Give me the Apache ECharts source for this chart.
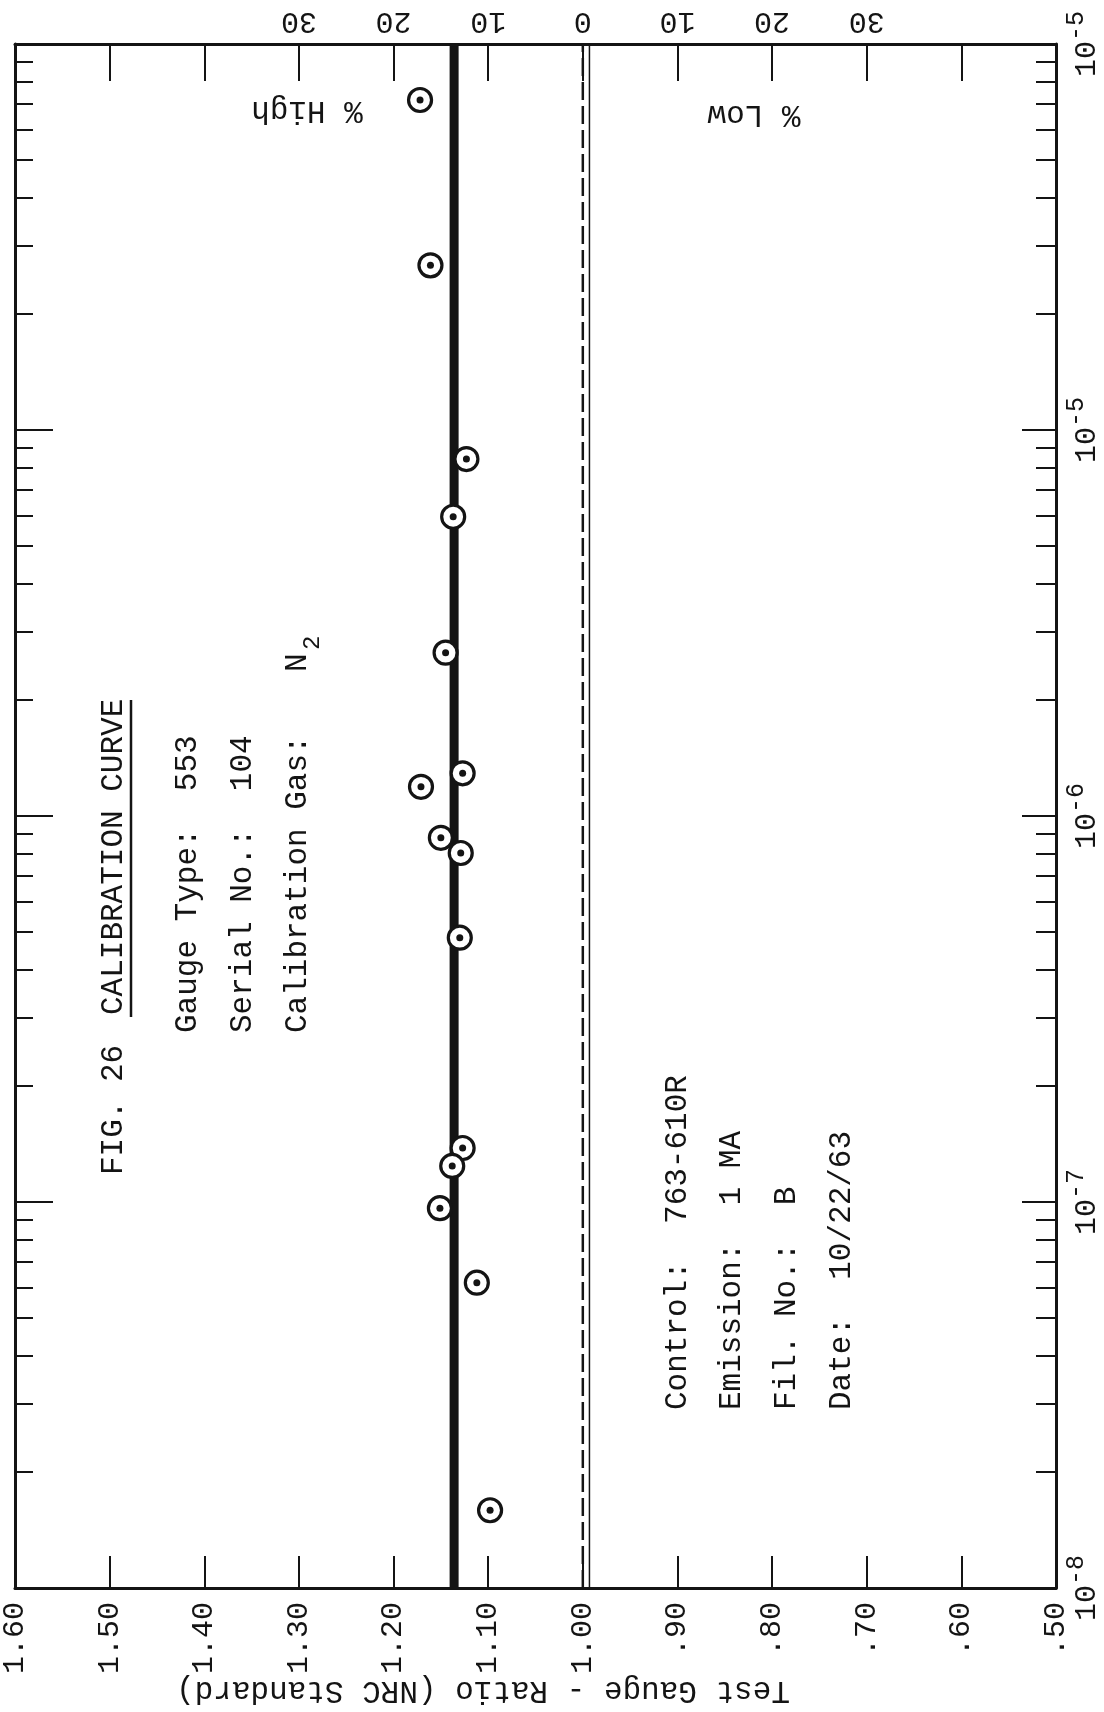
<!DOCTYPE html>
<html><head><meta charset="utf-8">
<script src="https://cdn.jsdelivr.net/npm/echarts@6/dist/echarts.min.js"></script>
<style>html,body{margin:0;padding:0;background:#fff}#c{width:1104px;height:1712px}</style>
</head><body><div id="c"></div>
<script>
// ---- data ----
const pressure = [7.16e-5, 2.67e-5, 8.41e-6, 5.96e-6, 2.65e-6, 1.29e-6, 1.19e-6, 8.78e-7, 8.02e-7, 4.84e-7, 1.38e-7, 1.24e-7, 9.64e-8, 6.18e-8, 1.59e-8];
const ratio    = [1.172, 1.161, 1.123, 1.137, 1.145, 1.127, 1.171, 1.150, 1.129, 1.130, 1.127, 1.138, 1.151, 1.112, 1.098];
const meanRatio = 1.136;
const refRatio = 1.00;
const refRatioSolid = 0.993;
const pressureRange = [1e-8, 1e-4];
const ratioTickLabels = ['.50','.60','.70','.80','.90','1.00','1.10','1.20','1.30','1.40','1.50','1.60'];
const percentTickLabels = ['','','30','20','10','0','10','20','30','','',''];
const decadeValues = [1e-8, 1e-7, 1e-6, 1e-5, 1e-4];
const decadeExponents = ['-8','-7','-6','-5','-5'];
const minorMultipliers = [2,3,4,5,6,7,8,9];

const minorValues = [];
decadeValues.slice(0, -1).forEach(d => minorMultipliers.forEach(m => minorValues.push(m * d)));

const FONT = '"Liberation Mono", "Courier New", monospace';
const INK = '#141414';
const points = ratio.map((r, i) => [r, pressure[i]]);

function ratioIdx(v) { return Math.round(v * 10) - 5; }

function logAxis(pos, tickVals, len, withLine, withLabel) {
  return {
    type: 'log', logBase: 10, min: pressureRange[0], max: pressureRange[1],
    position: pos, offset: 0,
    axisLine: { show: withLine, lineStyle: { color: INK, width: 3 } },
    axisTick: { show: true, inside: true, length: len, customValues: tickVals, lineStyle: { color: INK, width: 2 } },
    axisLabel: withLabel ? {
      show: true, customValues: decadeValues, rotate: 90, margin: 8,
      formatter: v => '{b|10}{s|' + decadeExponents[Math.round(Math.log10(v)) + 8] + '}',
      rich: {
        b: { fontFamily: FONT, fontSize: 30, color: INK },
        s: { fontFamily: FONT, fontSize: 25, color: INK, verticalAlign: 'top', padding: [0, 0, 22, 0] }
      }
    } : { show: false },
    splitLine: { show: false }, minorTick: { show: false }
  };
}

function vtext(x, y, text, size) {
  return { type: 'text', x: x, y: y, rotation: Math.PI / 2,
    style: { text: text, font: (size || 31) + 'px ' + FONT, fill: INK, align: 'left', verticalAlign: 'middle' } };
}
function utext(x, y, text, size) {
  return { type: 'text', x: x, y: y, rotation: Math.PI,
    style: { text: text, font: (size || 31) + 'px ' + FONT, fill: INK, align: 'center', verticalAlign: 'middle' } };
}

const chart = echarts.init(document.getElementById('c'), null, { renderer: 'canvas' });
chart.setOption({
  backgroundColor: '#fff',
  animation: false,
  grid: { left: 11, top: 44, right: 48, bottom: 124 },
  xAxis: [
    {
      type: 'value', position: 'bottom', min: 0.5, max: 1.6, interval: 0.1, inverse: true,
      axisLine: { lineStyle: { color: INK, width: 3 } },
      axisTick: { inside: true, length: 32, lineStyle: { color: INK, width: 2 } },
      axisLabel: { rotate: 90, margin: 14, fontFamily: FONT, fontSize: 30, color: INK,
        showMinLabel: true, showMaxLabel: true,
        formatter: v => ratioTickLabels[ratioIdx(v)] },
      splitLine: { show: false }
    },
    {
      type: 'value', position: 'top', min: 0.5, max: 1.6, interval: 0.1, inverse: true,
      axisLine: { lineStyle: { color: INK, width: 3 } },
      axisTick: { inside: true, length: 37, lineStyle: { color: INK, width: 2 } },
      axisLabel: { rotate: 180, margin: 8, fontFamily: FONT, fontSize: 30, color: INK,
        formatter: v => percentTickLabels[ratioIdx(v)] },
      splitLine: { show: false }
    }
  ],
  yAxis: [
    logAxis('right', decadeValues, 34, true, true),
    logAxis('right', minorValues, 20, false, false),
    logAxis('left', decadeValues, 38, true, false),
    logAxis('left', minorValues, 18, false, false)
  ],
  series: [
    { type: 'line', xAxisIndex: 0, yAxisIndex: 0, symbol: 'none', z: 2,
      data: pressureRange.map(p => [refRatio, p]),
      lineStyle: { color: INK, width: 2.5, type: [18, 6] } },
    { type: 'line', xAxisIndex: 0, yAxisIndex: 0, symbol: 'none', z: 2,
      data: pressureRange.map(p => [refRatioSolid, p]),
      lineStyle: { color: INK, width: 1.5 } },
    { type: 'line', xAxisIndex: 0, yAxisIndex: 0, symbol: 'none', z: 3,
      data: pressureRange.map(p => [meanRatio, p]),
      lineStyle: { color: INK, width: 9 } },
    { type: 'scatter', xAxisIndex: 0, yAxisIndex: 0, z: 5, symbol: 'circle', symbolSize: 23,
      data: points, itemStyle: { color: '#fff', borderColor: INK, borderWidth: 3.2, opacity: 1 } },
    { type: 'scatter', xAxisIndex: 0, yAxisIndex: 0, z: 6, symbol: 'circle', symbolSize: 7,
      data: points, itemStyle: { color: INK, opacity: 1 } }
  ],
  graphic: [
    vtext(114, 1175, 'FIG. 26'),
    vtext(114, 1015, 'CALIBRATION CURVE'),
    { type: 'line', shape: { x1: 131, y1: 1017, x2: 131, y2: 700 }, style: { stroke: INK, lineWidth: 2.5 } },
    vtext(188, 1033, 'Gauge Type:  553'),
    vtext(243, 1033, 'Serial No.:  104'),
    vtext(298, 1033, 'Calibration Gas:'),
    vtext(298, 672, 'N'),
    vtext(313, 650, '2', 24),
    vtext(678, 1410, 'Control:  763-610R'),
    vtext(732, 1410, 'Emission:  1 MA'),
    vtext(787, 1410, 'Fil. No.:  B'),
    vtext(842, 1410, 'Date:  10/22/63'),
    utext(307, 110, '% High'),
    utext(754, 114, '% Low'),
    utext(483, 1690, 'Test Gauge - Ratio (NRC Standard)')
  ]
});
</script></body></html>
